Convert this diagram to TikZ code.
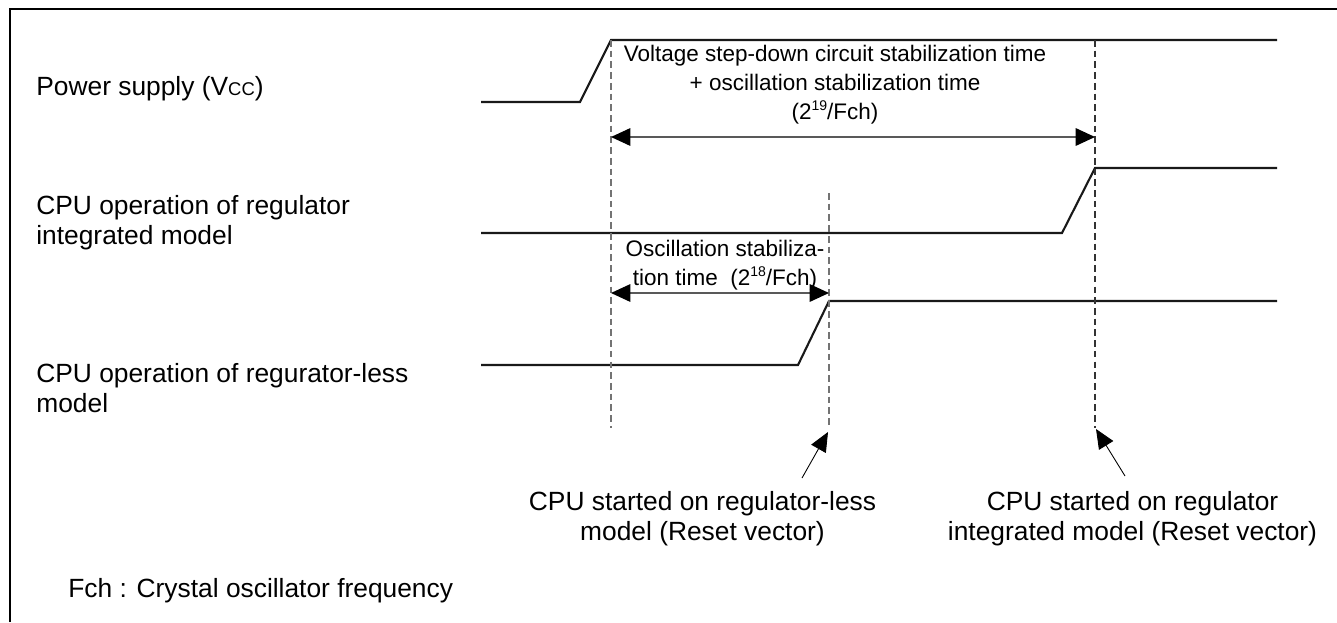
\documentclass[tikz,border=0pt]{standalone}
\usepackage{fontspec}
\setmainfont{Liberation Sans}
\usetikzlibrary{arrows.meta}
\tikzset{
  lbl/.style={anchor=base west, inner sep=0pt, align=left, font=\fontsize{15}{17}\selectfont},
  note/.style={anchor=base, inner sep=0pt, align=center, font=\fontsize{15}{16.6}\selectfont},
  tnote/.style={anchor=base, inner sep=0pt, align=center, font=\fontsize{12.8}{16.4}\selectfont},
  wave/.style={line width=1.2pt, black!90},
  guide/.style={dash pattern=on 3.8pt off 2.3pt, line width=0.8pt, black!55},
  span/.style={{Triangle[length=11pt,width=10pt,color=black]}-{Triangle[length=11pt,width=10pt,color=black]}, line width=0.75pt, black!65},
  pointer/.style={-{Triangle[length=11pt,width=9.5pt]}, line width=0.5pt}
}
\newcommand{\sml}[1]{{\fontsize{10.5}{12}\selectfont #1}}
\newcommand{\pw}[1]{\raisebox{0.38em}{\fontsize{8}{9}\selectfont #1}}
\begin{document}
\begin{tikzpicture}[x=0.02cm, y=-0.02cm]
\useasboundingbox (0,0) rectangle (1337,622);
% frame
\draw[line width=0.6pt] (10,622) -- (10,9) -- (1337,9);
% signal names
\node[lbl] (vcclbl) at (36,95) {Power supply (V\sml{CC})};
\node[lbl] (reglbl) at (36,244) {CPU operation of regulator\\integrated model};
\node[lbl] (lesslbl) at (36,412) {CPU operation of regurator-less\\model};
\node[lbl] (fchlbl) at (68,597) {Fch : Crystal oscillator frequency};
% waveforms
\coordinate (vcc0) at (481,102);
\coordinate (vcc1) at (580,102);
\coordinate (vcc2) at (611,40);
\coordinate (vcc3) at (1277,40);
\draw[wave] (vcc0) -- (vcc1) -- (vcc2) -- (vcc3);
\coordinate (reg0) at (481,233);
\coordinate (reg1) at (1062,233);
\coordinate (reg2) at (1095,168);
\coordinate (reg3) at (1277,168);
\draw[wave] (reg0) -- (reg1) -- (reg2) -- (reg3);
\coordinate (less0) at (481,365);
\coordinate (less1) at (798,365);
\coordinate (less2) at (829,301);
\coordinate (less3) at (1277,301);
\draw[wave] (less0) -- (less1) -- (less2) -- (less3);
% timing guides
\coordinate (gA) at (611,428);
\coordinate (gB0) at (829,193);
\coordinate (gB) at (829,428);
\coordinate (gC0) at (1095,40);
\coordinate (gC) at (1095,428);
\draw[guide] (vcc2) -- (gA);
\draw[guide] (gB0) -- (gB);
\draw[guide, black!80] (gC0) -- (gC);
% stabilization spans
\coordinate (longL) at (611,137);
\coordinate (longR) at (1095,137);
\draw[span] (longL) -- (longR);
\node[tnote] (longtxt) at (835,119) {Voltage step-down circuit stabilization time\\+ oscillation stabilization time\\(2\pw{19}/Fch)};
\coordinate (shortL) at (611,293);
\coordinate (shortR) at (829,293);
\draw[span] (shortL) -- (shortR);
\node[tnote] (shorttxt) at (725,285) {Oscillation stabiliza-\\tion time~~(2\pw{18}/Fch)};
% start points
\node[note] (lessstart) at (702.5,540) {CPU started on regulator-less\\model (Reset vector)};
\node[note] (regstart) at (1132.5,540) {CPU started on regulator\\integrated model (Reset vector)};
\coordinate (lesstail) at (802,478);
\coordinate (lesstip) at (828,432);
\coordinate (regtail) at (1125,476);
\coordinate (regtip) at (1096,429);
\draw[pointer] (lesstail) -- (lesstip);
\draw[pointer] (regtail) -- (regtip);
\end{tikzpicture}
\end{document}
